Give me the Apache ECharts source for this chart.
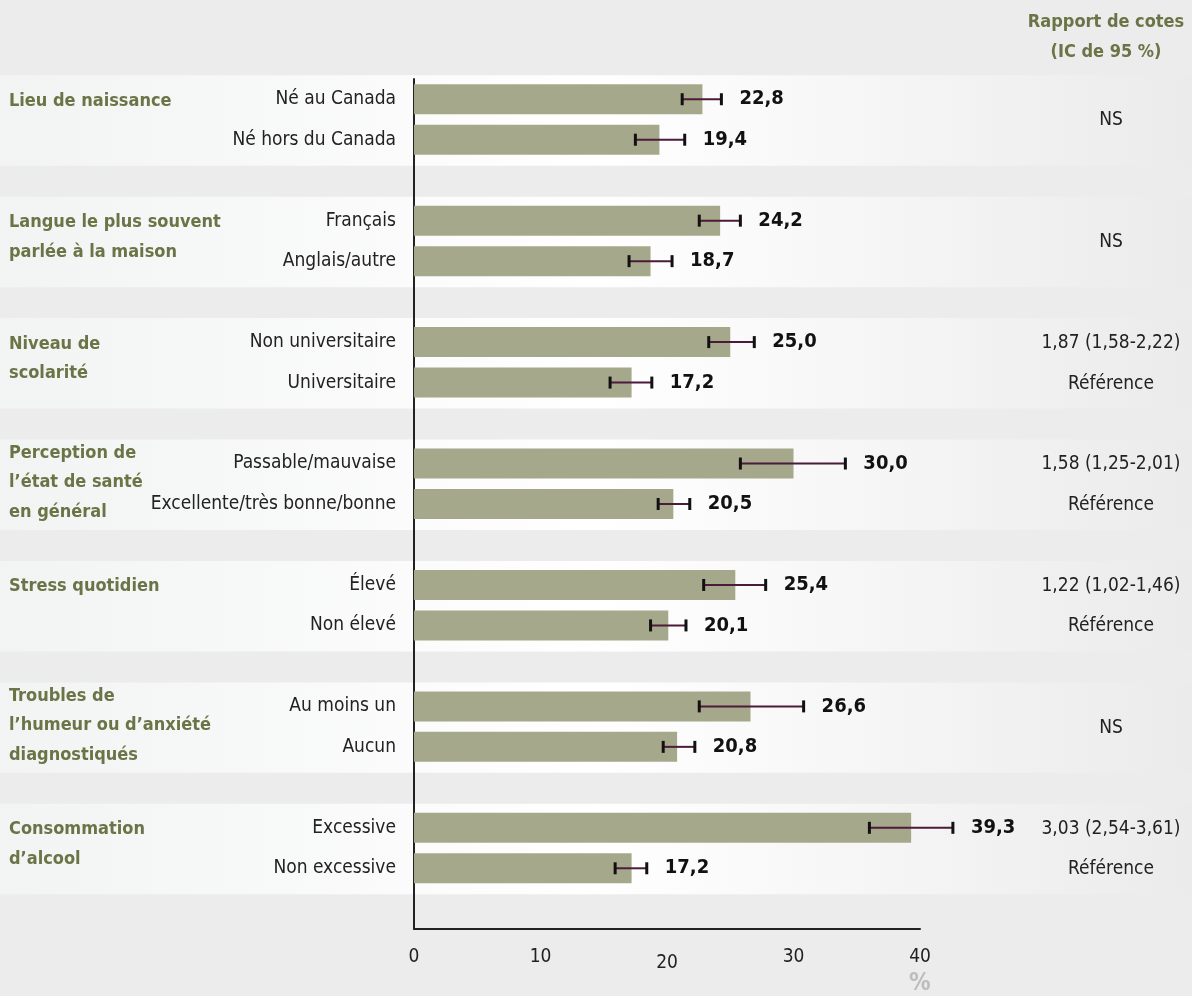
<!DOCTYPE html>
<html>
<head>
<meta charset="utf-8">
<script src="https://cdn.jsdelivr.net/npm/echarts@6/dist/echarts.min.js"></script>
<style>
  html, body { margin: 0; padding: 0; background: #ececec; }
  #main { width: 1192px; height: 996px; }
</style>
</head>
<body>
<div id="main"></div>
<script>
// groupes et catégories (2 catégories par groupe)
var groups = [
  'Lieu de naissance',
  'Langue le plus souvent\nparlée à la maison',
  'Niveau de\nscolarité',
  'Perception de\nl\u2019état de santé\nen général',
  'Stress quotidien',
  'Troubles de\nl\u2019humeur ou d\u2019anxiété\ndiagnostiqués',
  'Consommation\nd\u2019alcool'
]
var categories = [
  'Né au Canada', 'Né hors du Canada',
  'Français', 'Anglais/autre',
  'Non universitaire', 'Universitaire',
  'Passable/mauvaise', 'Excellente/très bonne/bonne',
  'Élevé', 'Non élevé',
  'Au moins un', 'Aucun',
  'Excessive', 'Non excessive'
]
var values = [22.8, 19.4, 24.2, 18.7, 25.0, 17.2, 30.0, 20.5, 25.4, 20.1, 26.6, 20.8, 39.3, 17.2]
var ciLow = [21.2, 17.5, 22.55, 17.0, 23.3, 15.5, 25.8, 19.3, 22.9, 18.7, 22.55, 19.7, 36.0, 15.9]
var ciHigh = [24.3, 21.4, 25.8, 20.4, 26.9, 18.8, 34.1, 21.8, 27.8, 21.5, 30.8, 22.2, 42.6, 18.4]
var oddsRatio = [
  '', '',
  '', '',
  '1,87 (1,58-2,22)', 'Référence',
  '1,58 (1,25-2,01)', 'Référence',
  '1,22 (1,02-1,46)', 'Référence',
  '', '',
  '3,03 (2,54-3,61)', 'Référence'
]
var groupNote = ['NS', 'NS', '', '', '', 'NS', '']

var FONT = "'Liberation Sans Narrow', 'DejaVu Sans Condensed', 'Roboto', sans-serif"
var OLIVE = '#6b7446'
var W = 1192
var RIGHT_COL = 1108

// 3 emplacements par groupe : 2 barres + 1 vide
var slots = []
var slotOfRow = []
categories.forEach(function (c, i) {
  slotOfRow.push(slots.length)
  slots.push(c)
  if (i % 2 == 1) slots.push('')
})

var barData = slots.map(function () { return '-' })
values.forEach(function (v, i) { barData[slotOfRow[i]] = v })

var errData = values.map(function (v, i) {
  return [ciLow[i], ciHigh[i], slotOfRow[i], v, oddsRatio[i]]
})
var groupData = groups.map(function (g, i) { return [i] })

function fmt(v) {
  return v.toFixed(1).replace('.', ',')
}

var chart = echarts.init(document.getElementById('main'))

var option = {
  backgroundColor: '#ececec',
  animation: false,
  textStyle: { fontFamily: FONT },
  grid: { left: 414, right: 272, top: 79, bottom: 67 },
  xAxis: {
    type: 'value',
    min: 0,
    max: 40,
    interval: 10,
    splitLine: { show: false },
    axisTick: { show: false },
    axisLine: { show: true, lineStyle: { color: '#222', width: 2 } },
    axisLabel: {
      margin: 19,
      fontSize: 19,
      color: '#222',
      fontFamily: FONT,
      formatter: function (v) {
        return v == 20 ? '{low|20}' : String(v)
      },
      rich: { low: { fontSize: 19, color: '#222', fontFamily: FONT, padding: [6, 0, 0, 0] } }
    }
  },
  yAxis: {
    type: 'category',
    inverse: true,
    data: slots,
    axisTick: { show: false },
    axisLine: { show: true, lineStyle: { color: '#222', width: 2 } },
    axisLabel: { margin: 18, fontSize: 19, color: '#222', fontFamily: FONT, interval: 0 }
  },
  graphic: [
    {
      type: 'text',
      x: 1106,
      y: 7,
      style: {
        text: 'Rapport de cotes\n(IC de 95 %)',
        fill: OLIVE, fontSize: 18, fontWeight: 'bold', fontFamily: FONT,
        align: 'center', verticalAlign: 'top', lineHeight: 30
      }
    },
    {
      type: 'text',
      x: 909,
      y: 972,
      style: { text: '%', fill: '#bdbdbd', fontSize: 24, fontWeight: 'bold', fontFamily: FONT }
    }
  ],
  series: [
    {
      // bandes de fond par groupe
      type: 'custom',
      z: -1,
      clip: false,
      silent: true,
      data: groupData,
      renderItem: function (params, api) {
        var g = api.value(0)
        var ya = api.coord([0, g * 3])[1]
        var yb = api.coord([0, g * 3 + 1])[1]
        return {
          type: 'rect',
          shape: { x: 0, y: ya - 24, width: W, height: yb - ya + 50 },
          style: {
            fill: new echarts.graphic.LinearGradient(0, 0, 1, 0, [
              { offset: 0, color: '#f2f3f3' },
              { offset: 0.5, color: '#ffffff' },
              { offset: 1, color: '#ebebec' }
            ])
          }
        }
      }
    },
    {
      type: 'bar',
      data: barData,
      barWidth: 30,
      itemStyle: { color: '#a6a88b' },
      z: 2
    },
    {
      // intervalles de confiance + valeurs + rapports de cotes
      type: 'custom',
      z: 3,
      clip: false,
      data: errData,
      encode: { x: [0, 1], y: 2 },
      renderItem: function (params, api) {
        var lo = api.coord([api.value(0), api.value(2)])
        var hi = api.coord([api.value(1), api.value(2)])
        var y = lo[1]
        var v = api.value(3)
        var or = errData[params.dataIndex][4]
        var cap = 6
        var kids = [
          { type: 'line', shape: { x1: lo[0], y1: y, x2: hi[0], y2: y }, style: { stroke: '#4b1b3a', lineWidth: 2 } },
          { type: 'line', shape: { x1: lo[0], y1: y - cap, x2: lo[0], y2: y + cap }, style: { stroke: '#111', lineWidth: 3 } },
          { type: 'line', shape: { x1: hi[0], y1: y - cap, x2: hi[0], y2: y + cap }, style: { stroke: '#111', lineWidth: 3 } },
          {
            type: 'text',
            style: {
              text: fmt(v), x: hi[0] + 18, y: y,
              fill: '#111', fontSize: 20, fontWeight: 'bold', fontFamily: FONT,
              align: 'left', verticalAlign: 'middle'
            }
          }
        ]
        if (or) {
          kids.push({
            type: 'text',
            style: {
              text: or, x: RIGHT_COL + 3, y: y + 1,
              fill: '#222', fontSize: 19, fontFamily: FONT,
              align: 'center', verticalAlign: 'middle'
            }
          })
        }
        return { type: 'group', children: kids }
      }
    },
    {
      // titres de groupe et NS
      type: 'custom',
      z: 3,
      clip: false,
      silent: true,
      data: groupData,
      renderItem: function (params, api) {
        var g = api.value(0)
        var ya = api.coord([0, g * 3])[1]
        var yb = api.coord([0, g * 3 + 1])[1]
        var lines = groups[g].split('\n').length
        var kids = [{
          type: 'text',
          style: {
            text: groups[g], x: 9, y: ya - 13 - (lines > 2 ? 12 : 0),
            fill: OLIVE, fontSize: 18, fontWeight: 'bold', fontFamily: FONT,
            align: 'left', verticalAlign: 'top', lineHeight: 29.5
          }
        }]
        if (groupNote[g]) {
          kids.push({
            type: 'text',
            style: {
              text: groupNote[g], x: RIGHT_COL + 3, y: (ya + yb) / 2 + 1,
              fill: '#222', fontSize: 19, fontFamily: FONT,
              align: 'center', verticalAlign: 'middle'
            }
          })
        }
        return { type: 'group', children: kids }
      }
    }
  ]
}

chart.setOption(option)
</script>
</body>
</html>
